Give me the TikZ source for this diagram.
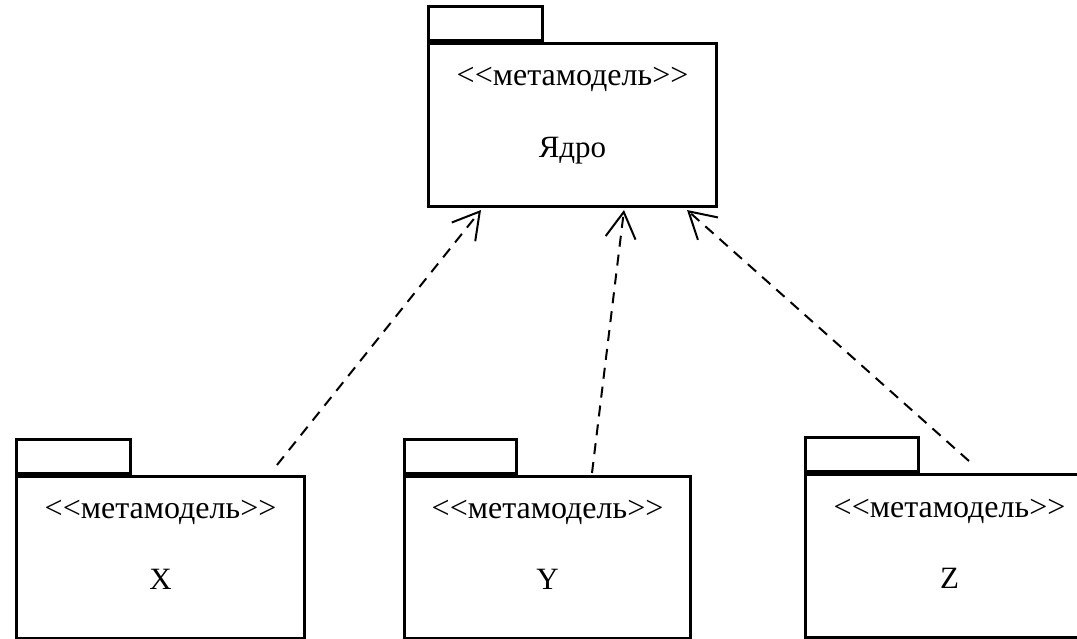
\documentclass[tikz,border=0pt]{standalone}
\usepackage{fontspec}
\setmainfont{Liberation Serif}
\usetikzlibrary{arrows.meta,calc}
\newcommand{\stereotxt}{<\kern0pt<метамодель>\kern0pt>}
\begin{document}
\begin{tikzpicture}[x=1pt,y=-1pt,
  pkgbody/.style={draw, line width=3pt, minimum width=288pt, minimum height=162pt,
    anchor=north west, inner sep=0pt},
  pkgtab/.style={draw, line width=3pt, minimum width=114pt, minimum height=34pt,
    anchor=south west, inner sep=0pt},
  stereo/.style={anchor=base, font=\fontsize{32}{34}\selectfont},
  pkgname/.style={anchor=base, font=\fontsize{31}{34}\selectfont},
  depend/.style={dash pattern=on 11pt off 8pt, line width=2pt,
    -{Straight Barb[length=26pt,width=30pt,line width=2pt]}}]
\useasboundingbox (0,0) rectangle (1077,638);
\clip (0,0) rectangle (1077,638);

% core package
\node[pkgbody, minimum height=163pt] (core) at (427,42) {};
\node[pkgtab] (coretab) at (core.north west) {};
\node[stereo] (corest) at ($(core.north)+(0,43)$) {\stereotxt};
\node[pkgname] (corename) at ($(core.north)+(0,115)$) {Ядро};

% dependent packages
\node[pkgbody] (xb) at (15,475) {};
\node[pkgtab] (xtab) at (xb.north west) {};
\node[stereo] (xst) at ($(xb.north)+(0,43)$) {\stereotxt};
\node[pkgname] (xname) at ($(xb.north)+(0,114)$) {X};

\node[pkgbody, minimum width=286pt] (yb) at (403,475) {};
\node[pkgtab, minimum width=112pt] (ytab) at (yb.north west) {};
\node[stereo] (yst) at ($(yb.north)+(0,43)$) {\stereotxt};
\node[pkgname] (yname) at ($(yb.north)+(0,114)$) {Y};

\node[pkgbody, minimum height=163pt] (zb) at (804,473) {};
\node[pkgtab, minimum width=113pt] (ztab) at (zb.north west) {};
\node[stereo] (zst) at ($(zb.north)+(0,44)$) {\stereotxt};
\node[pkgname] (zname) at ($(zb.north)+(0,115)$) {Z};

% connector ends
\coordinate (xs) at ($(xb.north west)+(262,-10)$);
\coordinate (ys) at ($(yb.north west)+(189,-2)$);
\coordinate (zs) at ($(zb.north west)+(165,-12)$);
\coordinate (xe) at ($(core.south west)+(54,2)$);
\coordinate (ye) at ($(core.south west)+(197,2)$);
\coordinate (ze) at ($(core.south west)+(260,2)$);

\draw[depend] (xs) -- (xe);
\draw[depend] (ys) -- (ye);
\draw[depend] (zs) -- (ze);
\end{tikzpicture}
\end{document}
